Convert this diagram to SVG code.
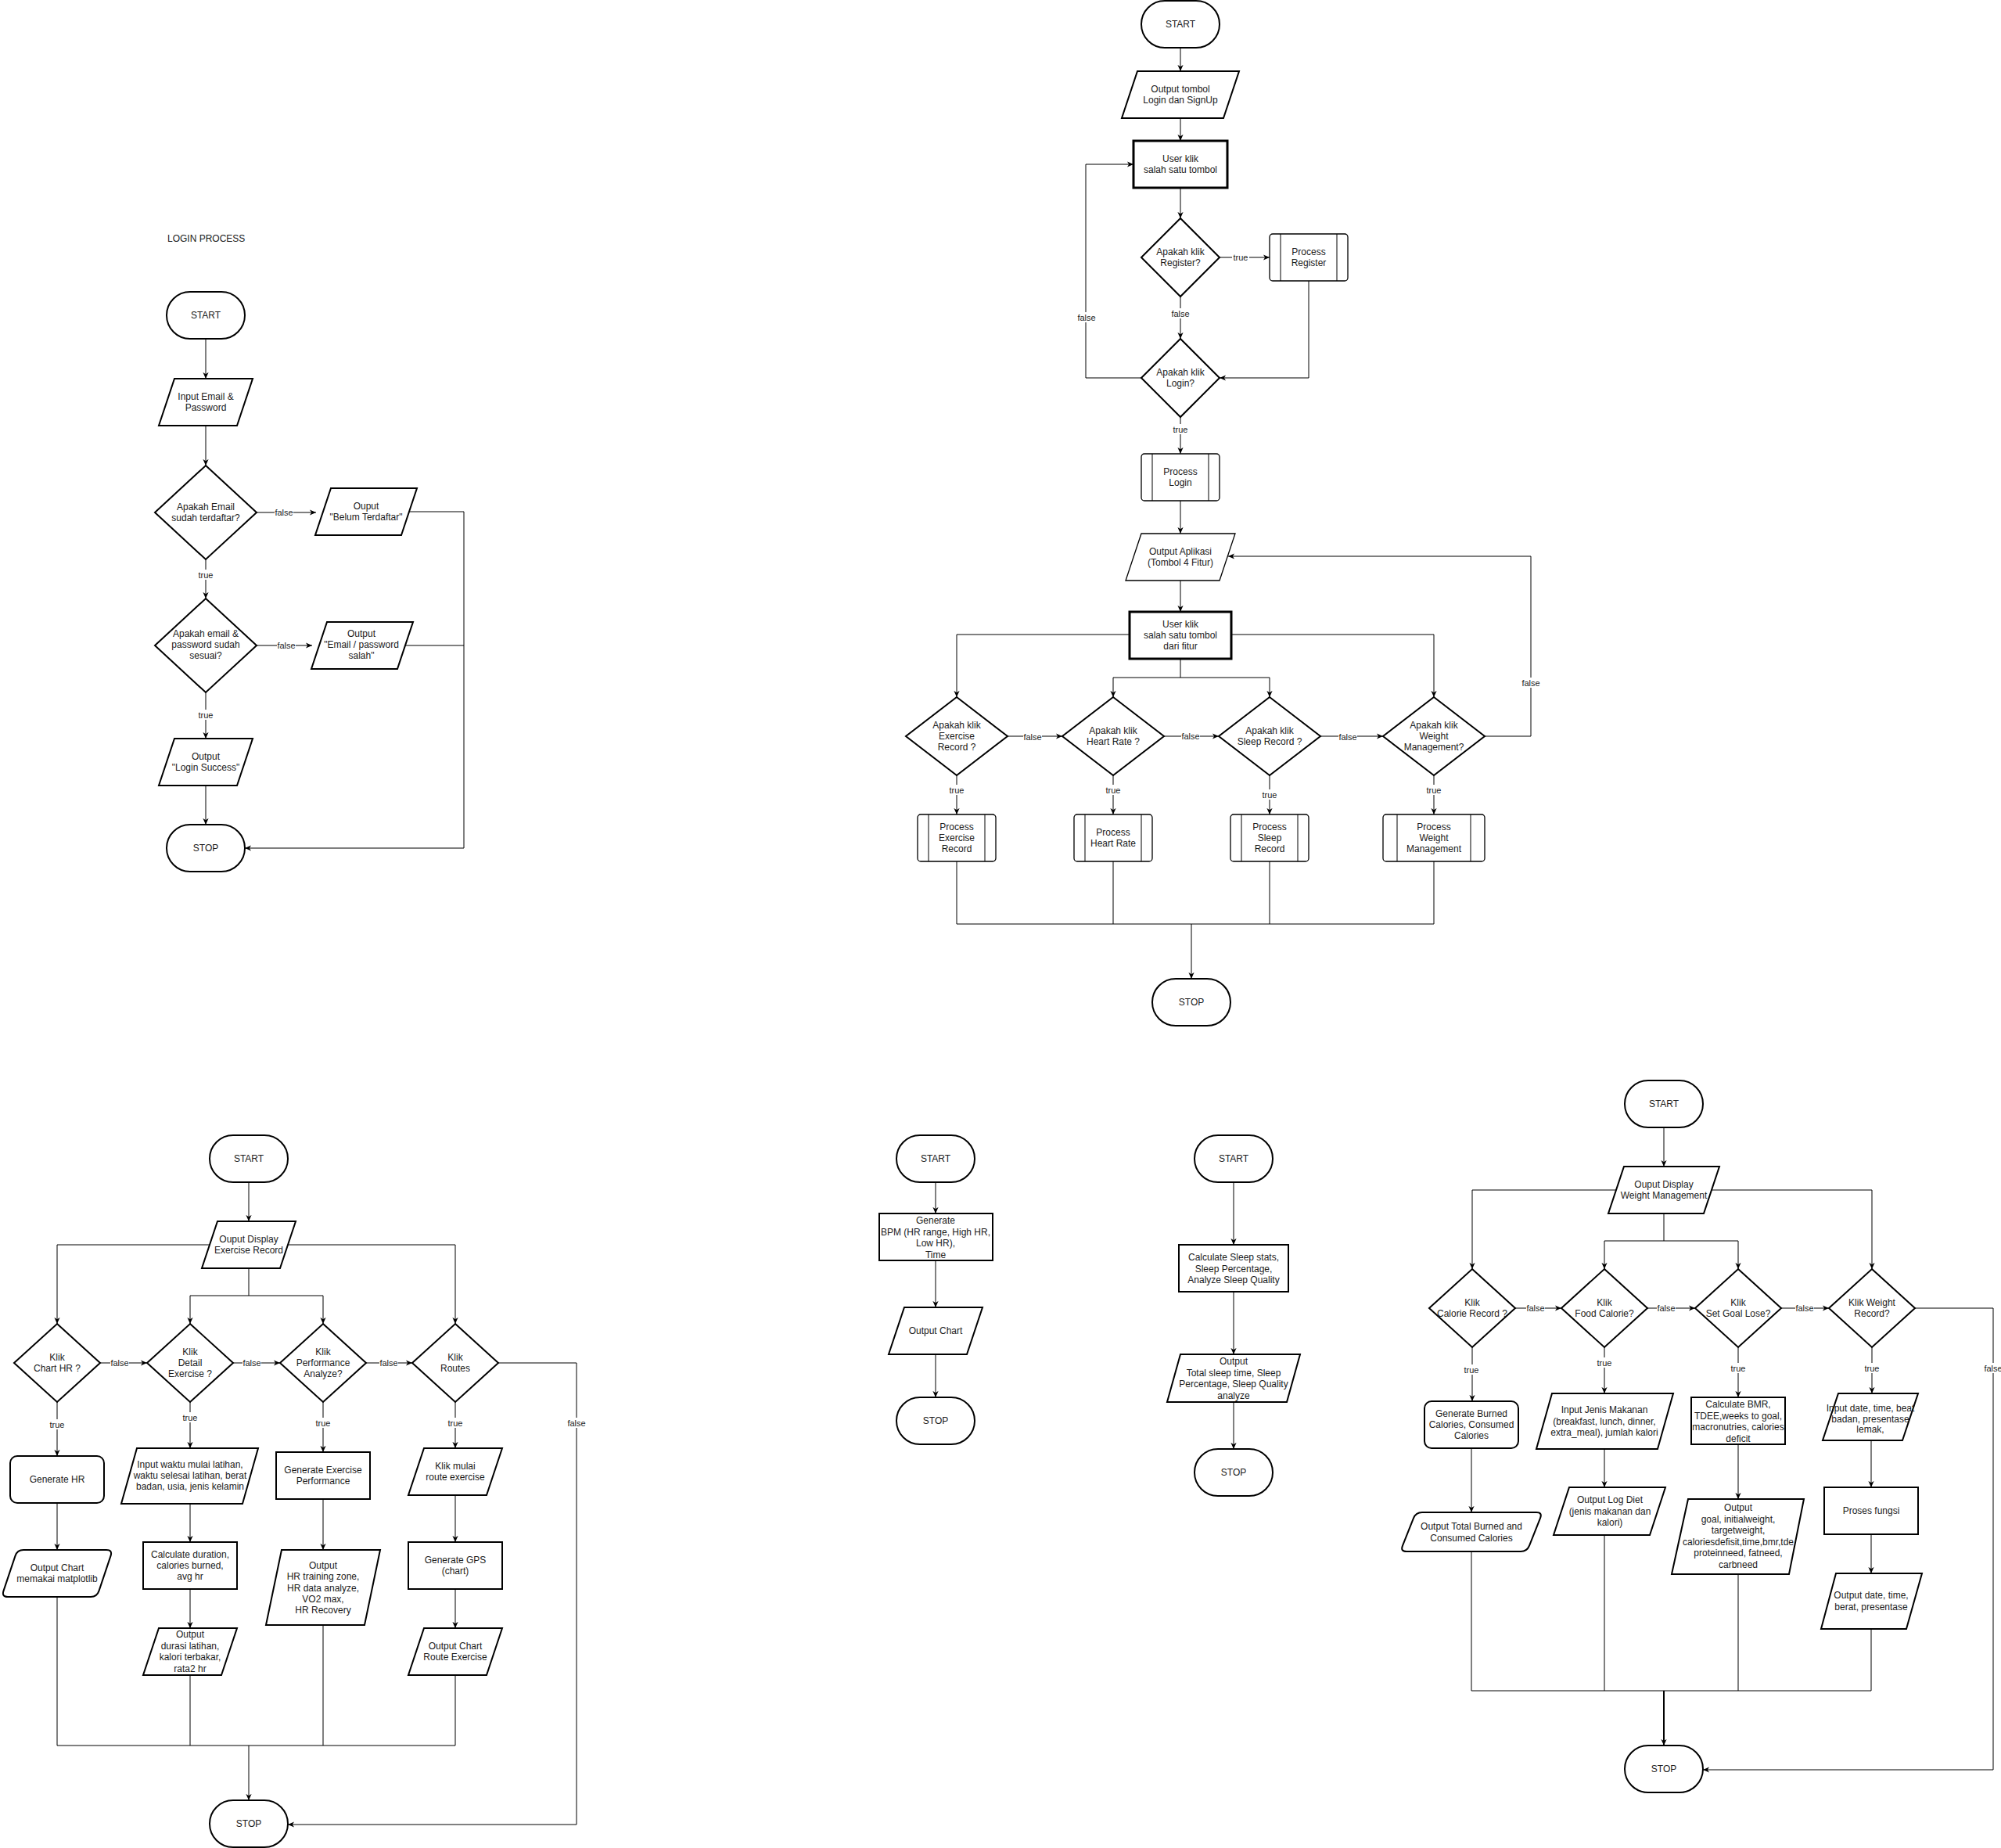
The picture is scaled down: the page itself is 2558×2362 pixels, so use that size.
<svg xmlns="http://www.w3.org/2000/svg" width="2558" height="2362" viewBox="0 0 2558 2362">
<defs>
<marker id="ar" viewBox="0 0 10 10" refX="9" refY="5" markerWidth="9" markerHeight="9" orient="auto" markerUnits="userSpaceOnUse"><path d="M0,1 L9,5 L0,9 L2.5,5 Z" fill="#000"/></marker>
<style>
.s{fill:#fff;stroke:#000;stroke-width:2}
.s1{fill:#fff;stroke:#000;stroke-width:1.3}
.s3{fill:#fff;stroke:#000;stroke-width:3}
.t{font-family:"Liberation Sans",Arial,Helvetica,sans-serif;font-size:12px;fill:#1a1a1a;text-anchor:middle}
.tl{font-family:"Liberation Sans",Arial,Helvetica,sans-serif;font-size:12px;fill:#1a1a1a}
.c{fill:none;stroke:#000;stroke-width:1}
.ca{fill:none;stroke:#000;stroke-width:1;marker-end:url(#ar)}
.cb{fill:none;stroke:#000;stroke-width:2;marker-end:url(#ar)}
.lb rect{fill:#fff}
.lb text{font-family:"Liberation Sans",Arial,Helvetica,sans-serif;font-size:11px;fill:#1a1a1a;text-anchor:middle}
</style>
</defs>
<rect width="2558" height="2362" fill="#fff"/>

<!-- ============ LOGIN PROCESS ============ -->
<text id="login-title" class="tl" x="214" y="309">LOGIN PROCESS</text>
<g id="connectors-login">
<path class="ca" d="M263,433 V484"/>
<path class="ca" d="M263,544 V595"/>
<path class="ca" d="M328,655 H404"/>
<path class="ca" d="M263,715 V765"/>
<path class="ca" d="M328,825 H399"/>
<path class="ca" d="M263,885 V944"/>
<path class="ca" d="M263,1004 V1054"/>
<path class="ca" d="M523,654 H593 V1084 H313"/>
<path class="c" d="M518,825 H593"/>
<g class="lb" transform="translate(363,655)"><rect x="-12" y="-7" width="24" height="13"/><text y="4">false</text></g>
<g class="lb" transform="translate(263,735)"><rect x="-11" y="-7" width="22" height="13"/><text y="4">true</text></g>
<g class="lb" transform="translate(366,825)"><rect x="-12" y="-7" width="24" height="13"/><text y="4">false</text></g>
<g class="lb" transform="translate(263,914)"><rect x="-11" y="-7" width="22" height="13"/><text y="4">true</text></g>
</g>
<g id="l-start"><rect class="s" x="213" y="373" width="100" height="60" rx="30"/><text class="t" x="263" y="407">START</text></g>
<g id="l-input"><polygon class="s" points="223,484 323,484 303,544 203,544"/><text class="t" x="263" y="511">Input Email &amp;<tspan x="263" dy="14">Password</tspan></text></g>
<g id="l-dec1"><polygon class="s" points="263,595 328,655 263,715 198,655"/><text class="t" x="263" y="652">Apakah Email<tspan x="263" dy="14">sudah terdaftar?</tspan></text></g>
<g id="l-out-belum"><polygon class="s" points="423,624 533,624 513,684 403,684"/><text class="t" x="468" y="651">Ouput<tspan x="468" dy="14">"Belum Terdaftar"</tspan></text></g>
<g id="l-dec2"><polygon class="s" points="263,765 328,825 263,885 198,825"/><text class="t" x="263" y="814">Apakah email &amp;<tspan x="263" dy="14">password sudah</tspan><tspan x="263" dy="14">sesuai?</tspan></text></g>
<g id="l-out-salah"><polygon class="s" points="418,795 528,795 508,855 398,855"/><text class="t" x="462" y="814">Output<tspan x="462" dy="14">"Email / password</tspan><tspan x="462" dy="14">salah"</tspan></text></g>
<g id="l-out-success"><polygon class="s" points="223,944 323,944 303,1004 203,1004"/><text class="t" x="263" y="971">Output<tspan x="263" dy="14">"Login Success"</tspan></text></g>
<g id="l-stop"><rect class="s" x="213" y="1054" width="100" height="60" rx="30"/><text class="t" x="263" y="1088">STOP</text></g>

<!-- ============ MAIN APP ============ -->
<g id="connectors-main">
<path class="ca" d="M1509,61 V91"/>
<path class="ca" d="M1509,151 V180"/>
<path class="ca" d="M1509,240 V279"/>
<path class="ca" d="M1559,329 H1623"/>
<path class="ca" d="M1509,379 V433"/>
<path class="ca" d="M1673,359 V483 H1559"/>
<path class="ca" d="M1459,483 H1388 V210 H1449"/>
<path class="ca" d="M1509,533 V580"/>
<path class="ca" d="M1509,640 V682"/>
<path class="ca" d="M1509,742 V782"/>
<path class="ca" d="M1444,811 H1223 V891"/>
<path class="ca" d="M1574,811 H1833 V891"/>
<path class="ca" d="M1509,842 V866 H1423 V891"/>
<path class="ca" d="M1509,866 H1623 V891"/>
<path class="ca" d="M1288,941 H1358"/>
<path class="ca" d="M1488,941 H1558"/>
<path class="ca" d="M1688,941 H1768"/>
<path class="ca" d="M1898,941 H1957 V711 H1570"/>
<path class="ca" d="M1223,991 V1041"/>
<path class="ca" d="M1423,991 V1041"/>
<path class="ca" d="M1623,991 V1041"/>
<path class="ca" d="M1833,991 V1041"/>
<path class="c" d="M1223,1101 V1181 H1833 V1101"/>
<path class="c" d="M1423,1101 V1181"/>
<path class="c" d="M1623,1101 V1181"/>
<path class="ca" d="M1523,1181 V1251"/>
<g class="lb" transform="translate(1586,329)"><rect x="-11" y="-7" width="22" height="13"/><text y="4">true</text></g>
<g class="lb" transform="translate(1509,401)"><rect x="-12" y="-7" width="24" height="13"/><text y="4">false</text></g>
<g class="lb" transform="translate(1389,406)"><rect x="-12" y="-7" width="24" height="13"/><text y="4">false</text></g>
<g class="lb" transform="translate(1509,549)"><rect x="-11" y="-7" width="22" height="13"/><text y="4">true</text></g>
<g class="lb" transform="translate(1320,942)"><rect x="-12" y="-7" width="24" height="13"/><text y="4">false</text></g>
<g class="lb" transform="translate(1522,941)"><rect x="-12" y="-7" width="24" height="13"/><text y="4">false</text></g>
<g class="lb" transform="translate(1723,942)"><rect x="-12" y="-7" width="24" height="13"/><text y="4">false</text></g>
<g class="lb" transform="translate(1957,873)"><rect x="-12" y="-7" width="24" height="13"/><text y="4">false</text></g>
<g class="lb" transform="translate(1223,1010)"><rect x="-11" y="-7" width="22" height="13"/><text y="4">true</text></g>
<g class="lb" transform="translate(1423,1010)"><rect x="-11" y="-7" width="22" height="13"/><text y="4">true</text></g>
<g class="lb" transform="translate(1623,1016)"><rect x="-11" y="-7" width="22" height="13"/><text y="4">true</text></g>
<g class="lb" transform="translate(1833,1010)"><rect x="-11" y="-7" width="22" height="13"/><text y="4">true</text></g>
</g>
<g id="m-start"><rect class="s" x="1459" y="1" width="100" height="60" rx="30"/><text class="t" x="1509" y="35">START</text></g>
<g id="m-out-tombol"><polygon class="s" points="1454,91 1584,91 1564,151 1434,151"/><text class="t" x="1509" y="118">Output tombol<tspan x="1509" dy="14">Login dan SignUp</tspan></text></g>
<g id="m-user-klik"><rect class="s3" x="1449" y="180" width="120" height="60"/><text class="t" x="1509" y="207">User klik<tspan x="1509" dy="14">salah satu tombol</tspan></text></g>
<g id="m-dec-register"><polygon class="s" points="1509,279 1559,329 1509,379 1459,329"/><text class="t" x="1509" y="326">Apakah klik<tspan x="1509" dy="14">Register?</tspan></text></g>
<g id="m-proc-register"><rect class="s1" x="1623" y="299" width="100" height="60" rx="4"/><path class="c" d="M1637,299 V359 M1709,299 V359"/><text class="t" x="1673" y="326">Process<tspan x="1673" dy="14">Register</tspan></text></g>
<g id="m-dec-login"><polygon class="s" points="1509,433 1559,483 1509,533 1459,483"/><text class="t" x="1509" y="480">Apakah klik<tspan x="1509" dy="14">Login?</tspan></text></g>
<g id="m-proc-login"><rect class="s1" x="1459" y="580" width="100" height="60" rx="4"/><path class="c" d="M1473,580 V640 M1545,580 V640"/><text class="t" x="1509" y="607">Process<tspan x="1509" dy="14">Login</tspan></text></g>
<g id="m-out-aplikasi"><polygon class="s1" points="1459,682 1579,682 1559,742 1439,742"/><text class="t" x="1509" y="709">Output Aplikasi<tspan x="1509" dy="14">(Tombol 4 Fitur)</tspan></text></g>
<g id="m-user-fitur"><rect class="s3" x="1444" y="782" width="130" height="60"/><text class="t" x="1509" y="802">User klik<tspan x="1509" dy="14">salah satu tombol</tspan><tspan x="1509" dy="14">dari fitur</tspan></text></g>
<g id="m-dec-exercise"><polygon class="s" points="1223,891 1288,941 1223,991 1158,941"/><text class="t" x="1223" y="931">Apakah klik<tspan x="1223" dy="14">Exercise</tspan><tspan x="1223" dy="14">Record ?</tspan></text></g>
<g id="m-dec-heart"><polygon class="s" points="1423,891 1488,941 1423,991 1358,941"/><text class="t" x="1423" y="938">Apakah klik<tspan x="1423" dy="14">Heart Rate ?</tspan></text></g>
<g id="m-dec-sleep"><polygon class="s" points="1623,891 1688,941 1623,991 1558,941"/><text class="t" x="1623" y="938">Apakah klik<tspan x="1623" dy="14">Sleep Record ?</tspan></text></g>
<g id="m-dec-weight"><polygon class="s" points="1833,891 1898,941 1833,991 1768,941"/><text class="t" x="1833" y="931">Apakah klik<tspan x="1833" dy="14">Weight</tspan><tspan x="1833" dy="14">Management?</tspan></text></g>
<g id="m-proc-exercise"><rect class="s1" x="1173" y="1041" width="100" height="60" rx="4"/><path class="c" d="M1187,1041 V1101 M1259,1041 V1101"/><text class="t" x="1223" y="1061">Process<tspan x="1223" dy="14">Exercise</tspan><tspan x="1223" dy="14">Record</tspan></text></g>
<g id="m-proc-heart"><rect class="s1" x="1373" y="1041" width="100" height="60" rx="4"/><path class="c" d="M1387,1041 V1101 M1459,1041 V1101"/><text class="t" x="1423" y="1068">Process<tspan x="1423" dy="14">Heart Rate</tspan></text></g>
<g id="m-proc-sleep"><rect class="s1" x="1573" y="1041" width="100" height="60" rx="4"/><path class="c" d="M1587,1041 V1101 M1659,1041 V1101"/><text class="t" x="1623" y="1061">Process<tspan x="1623" dy="14">Sleep</tspan><tspan x="1623" dy="14">Record</tspan></text></g>
<g id="m-proc-weight"><rect class="s1" x="1768" y="1041" width="130" height="60" rx="4"/><path class="c" d="M1786,1041 V1101 M1880,1041 V1101"/><text class="t" x="1833" y="1061">Process<tspan x="1833" dy="14">Weight</tspan><tspan x="1833" dy="14">Management</tspan></text></g>
<g id="m-stop"><rect class="s" x="1473" y="1251" width="100" height="60" rx="30"/><text class="t" x="1523" y="1285">STOP</text></g>

<!-- ============ EXERCISE RECORD ============ -->
<g id="connectors-exercise">
<path class="ca" d="M318,1511 V1561"/>
<path class="ca" d="M268,1591 H73 V1692"/>
<path class="ca" d="M368,1591 H582 V1692"/>
<path class="ca" d="M318,1621 V1656 H243 V1692"/>
<path class="ca" d="M318,1656 H413 V1692"/>
<path class="ca" d="M128,1742 H188"/>
<path class="ca" d="M298,1742 H358"/>
<path class="ca" d="M468,1742 H527"/>
<path class="ca" d="M637,1742 H737 V2332 H368"/>
<path class="ca" d="M73,1792 V1861"/>
<path class="ca" d="M243,1792 V1851"/>
<path class="ca" d="M413,1792 V1856"/>
<path class="ca" d="M582,1792 V1851"/>
<path class="ca" d="M73,1921 V1981"/>
<path class="ca" d="M243,1922 V1971"/>
<path class="ca" d="M413,1916 V1981"/>
<path class="ca" d="M582,1911 V1971"/>
<path class="ca" d="M243,2031 V2081"/>
<path class="ca" d="M582,2031 V2081"/>
<path class="c" d="M73,2041 V2231 H582 V2141"/>
<path class="c" d="M243,2141 V2231"/>
<path class="c" d="M413,2077 V2231"/>
<path class="ca" d="M318,2231 V2301"/>
<g class="lb" transform="translate(153,1742)"><rect x="-12" y="-7" width="24" height="13"/><text y="4">false</text></g>
<g class="lb" transform="translate(322,1742)"><rect x="-12" y="-7" width="24" height="13"/><text y="4">false</text></g>
<g class="lb" transform="translate(497,1742)"><rect x="-12" y="-7" width="24" height="13"/><text y="4">false</text></g>
<g class="lb" transform="translate(737,1819)"><rect x="-12" y="-7" width="24" height="13"/><text y="4">false</text></g>
<g class="lb" transform="translate(73,1821)"><rect x="-11" y="-7" width="22" height="13"/><text y="4">true</text></g>
<g class="lb" transform="translate(243,1812)"><rect x="-11" y="-7" width="22" height="13"/><text y="4">true</text></g>
<g class="lb" transform="translate(413,1819)"><rect x="-11" y="-7" width="22" height="13"/><text y="4">true</text></g>
<g class="lb" transform="translate(582,1819)"><rect x="-11" y="-7" width="22" height="13"/><text y="4">true</text></g>
</g>
<g id="e-start"><rect class="s" x="268" y="1451" width="100" height="60" rx="30"/><text class="t" x="318" y="1485">START</text></g>
<g id="e-display"><polygon class="s" points="278,1561 378,1561 358,1621 258,1621"/><text class="t" x="318" y="1588">Ouput Display<tspan x="318" dy="14">Exercise Record</tspan></text></g>
<g id="e-dec-chart"><polygon class="s" points="73,1692 128,1742 73,1792 18,1742"/><text class="t" x="73" y="1739">Klik<tspan x="73" dy="14">Chart HR ?</tspan></text></g>
<g id="e-dec-detail"><polygon class="s" points="243,1692 298,1742 243,1792 188,1742"/><text class="t" x="243" y="1732">Klik<tspan x="243" dy="14">Detail</tspan><tspan x="243" dy="14">Exercise ?</tspan></text></g>
<g id="e-dec-perf"><polygon class="s" points="413,1692 468,1742 413,1792 358,1742"/><text class="t" x="413" y="1732">Klik<tspan x="413" dy="14">Performance</tspan><tspan x="413" dy="14">Analyze?</tspan></text></g>
<g id="e-dec-routes"><polygon class="s" points="582,1692 637,1742 582,1792 527,1742"/><text class="t" x="582" y="1739">Klik<tspan x="582" dy="14">Routes</tspan></text></g>
<g id="e-gen-hr"><rect class="s" x="13" y="1861" width="120" height="60" rx="9"/><text class="t" x="73" y="1895">Generate HR</text></g>
<g id="e-input-waktu"><polygon class="s" points="175,1851 330,1851 310,1922 155,1922"/><text class="t" x="243" y="1876">Input waktu mulai latihan,<tspan x="243" dy="14">waktu selesai latihan, berat</tspan><tspan x="243" dy="14">badan, usia, jenis kelamin</tspan></text></g>
<g id="e-gen-perf"><rect class="s" x="353" y="1856" width="120" height="60"/><text class="t" x="413" y="1883">Generate Exercise<tspan x="413" dy="14">Performance</tspan></text></g>
<g id="e-klik-route"><polygon class="s" points="542,1851 642,1851 622,1911 522,1911"/><text class="t" x="582" y="1878">Klik  mulai<tspan x="582" dy="14">route exercise</tspan></text></g>
<g id="e-out-chart"><path class="s" d="M30,1981 H136 Q144,1981 141.5,1988.6 L126.5,2033.4 Q124,2041 116,2041 H10 Q2,2041 4.5,2033.4 L19.5,1988.6 Q22,1981 30,1981 Z"/><text class="t" x="73" y="2008">Output Chart<tspan x="73" dy="14">memakai matplotlib</tspan></text></g>
<g id="e-calc"><rect class="s" x="183" y="1971" width="120" height="60"/><text class="t" x="243" y="1991">Calculate duration,<tspan x="243" dy="14">calories burned,</tspan><tspan x="243" dy="14">avg hr</tspan></text></g>
<g id="e-out-hr"><polygon class="s" points="360,1981 486,1981 466,2077 340,2077"/><text class="t" x="413" y="2005">Output<tspan x="413" dy="14.3">HR training zone,</tspan><tspan x="413" dy="14.3">HR data analyze,</tspan><tspan x="413" dy="14.3">VO2 max,</tspan><tspan x="413" dy="14.3">HR Recovery</tspan></text></g>
<g id="e-gen-gps"><rect class="s" x="522" y="1971" width="120" height="60"/><text class="t" x="582" y="1998">Generate GPS<tspan x="582" dy="14">(chart)</tspan></text></g>
<g id="e-out-durasi"><polygon class="s" points="203,2081 303,2081 283,2141 183,2141"/><text class="t" x="243" y="2093">Output<tspan x="243" dy="14.5">durasi latihan,</tspan><tspan x="243" dy="14.5">kalori terbakar,</tspan><tspan x="243" dy="14.5">rata2 hr</tspan></text></g>
<g id="e-out-route"><polygon class="s" points="542,2081 642,2081 622,2141 522,2141"/><text class="t" x="582" y="2108">Output Chart<tspan x="582" dy="14">Route Exercise</tspan></text></g>
<g id="e-stop"><rect class="s" x="268" y="2301" width="100" height="60" rx="30"/><text class="t" x="318" y="2335">STOP</text></g>

<!-- ============ HEART RATE ============ -->
<g id="connectors-heart">
<path class="ca" d="M1196,1511 V1551"/>
<path class="ca" d="M1196,1611 V1671"/>
<path class="ca" d="M1196,1731 V1786"/>
</g>
<g id="h-start"><rect class="s" x="1146" y="1451" width="100" height="60" rx="30"/><text class="t" x="1196" y="1485">START</text></g>
<g id="h-gen"><rect class="s" x="1124" y="1551" width="145" height="60"/><text class="t" x="1196" y="1564">Generate<tspan x="1196" dy="14.5">BPM (HR range, High HR,</tspan><tspan x="1196" dy="14.5">Low HR),</tspan><tspan x="1196" dy="14.5">Time</tspan></text></g>
<g id="h-out"><polygon class="s" points="1156,1671 1256,1671 1236,1731 1136,1731"/><text class="t" x="1196" y="1705">Output Chart</text></g>
<g id="h-stop"><rect class="s" x="1146" y="1786" width="100" height="60" rx="30"/><text class="t" x="1196" y="1820">STOP</text></g>

<!-- ============ SLEEP ============ -->
<g id="connectors-sleep">
<path class="ca" d="M1577,1511 V1591"/>
<path class="ca" d="M1577,1651 V1731"/>
<path class="ca" d="M1577,1792 V1852"/>
</g>
<g id="sl-start"><rect class="s" x="1527" y="1451" width="100" height="60" rx="30"/><text class="t" x="1577" y="1485">START</text></g>
<g id="sl-calc"><rect class="s" x="1507" y="1591" width="140" height="60"/><text class="t" x="1577" y="1611">Calculate Sleep stats,<tspan x="1577" dy="14.5">Sleep Percentage,</tspan><tspan x="1577" dy="14.5">Analyze Sleep Quality</tspan></text></g>
<g id="sl-out"><polygon class="s" points="1509,1731 1662,1731 1645,1792 1492,1792"/><text class="t" x="1577" y="1744">Output<tspan x="1577" dy="14.5">Total sleep time, Sleep</tspan><tspan x="1577" dy="14.5">Percentage, Sleep Quality</tspan><tspan x="1577" dy="14.5">analyze</tspan></text></g>
<g id="sl-stop"><rect class="s" x="1527" y="1852" width="100" height="60" rx="30"/><text class="t" x="1577" y="1886">STOP</text></g>

<!-- ============ WEIGHT MANAGEMENT ============ -->
<g id="connectors-weight">
<path class="ca" d="M2127,1441 V1491"/>
<path class="ca" d="M2066,1521 H1882 V1622"/>
<path class="ca" d="M2188,1521 H2393 V1622"/>
<path class="ca" d="M2127,1551 V1586 H2051 V1622"/>
<path class="ca" d="M2127,1586 H2222 V1622"/>
<path class="ca" d="M1937,1672 H1996"/>
<path class="ca" d="M2106,1672 H2167"/>
<path class="ca" d="M2277,1672 H2338"/>
<path class="ca" d="M2448,1672 H2548 V2262 H2177"/>
<path class="ca" d="M1882,1722 V1791"/>
<path class="ca" d="M2051,1722 V1781"/>
<path class="ca" d="M2222,1722 V1786"/>
<path class="ca" d="M2393,1722 V1781"/>
<path class="ca" d="M1881,1851 V1933"/>
<path class="ca" d="M2051,1852 V1901"/>
<path class="ca" d="M2222,1846 V1916"/>
<path class="ca" d="M2392,1841 V1901"/>
<path class="ca" d="M2392,1961 V2011"/>
<path class="c" d="M1881,1983 V2161 H2392 V2082"/>
<path class="c" d="M2051,1962 V2161"/>
<path class="c" d="M2222,2012 V2161"/>
<path class="cb" d="M2127,2161 V2231"/>
<g class="lb" transform="translate(1963,1672)"><rect x="-12" y="-7" width="24" height="13"/><text y="4">false</text></g>
<g class="lb" transform="translate(2130,1672)"><rect x="-12" y="-7" width="24" height="13"/><text y="4">false</text></g>
<g class="lb" transform="translate(2307,1672)"><rect x="-12" y="-7" width="24" height="13"/><text y="4">false</text></g>
<g class="lb" transform="translate(2548,1749)"><rect x="-12" y="-7" width="24" height="13"/><text y="4">false</text></g>
<g class="lb" transform="translate(1881,1751)"><rect x="-11" y="-7" width="22" height="13"/><text y="4">true</text></g>
<g class="lb" transform="translate(2051,1742)"><rect x="-11" y="-7" width="22" height="13"/><text y="4">true</text></g>
<g class="lb" transform="translate(2222,1749)"><rect x="-11" y="-7" width="22" height="13"/><text y="4">true</text></g>
<g class="lb" transform="translate(2393,1749)"><rect x="-11" y="-7" width="22" height="13"/><text y="4">true</text></g>
</g>
<g id="w-start"><rect class="s" x="2077" y="1381" width="100" height="60" rx="30"/><text class="t" x="2127" y="1415">START</text></g>
<g id="w-display"><polygon class="s" points="2076,1491 2198,1491 2178,1551 2056,1551"/><text class="t" x="2127" y="1518">Ouput Display<tspan x="2127" dy="14">Weight Management</tspan></text></g>
<g id="w-dec-calorie"><polygon class="s" points="1882,1622 1937,1672 1882,1722 1827,1672"/><text class="t" x="1882" y="1669">Klik<tspan x="1882" dy="14">Calorie Record ?</tspan></text></g>
<g id="w-dec-food"><polygon class="s" points="2051,1622 2106,1672 2051,1722 1996,1672"/><text class="t" x="2051" y="1669">Klik<tspan x="2051" dy="14">Food Calorie?</tspan></text></g>
<g id="w-dec-goal"><polygon class="s" points="2222,1622 2277,1672 2222,1722 2167,1672"/><text class="t" x="2222" y="1669">Klik<tspan x="2222" dy="14">Set Goal Lose?</tspan></text></g>
<g id="w-dec-weight"><polygon class="s" points="2393,1622 2448,1672 2393,1722 2338,1672"/><text class="t" x="2393" y="1669">Klik Weight<tspan x="2393" dy="14">Record?</tspan></text></g>
<g id="w-gen-burned"><rect class="s" x="1821" y="1791" width="120" height="60" rx="9"/><text class="t" x="1881" y="1811">Generate Burned<tspan x="1881" dy="14">Calories, Consumed</tspan><tspan x="1881" dy="14">Calories</tspan></text></g>
<g id="w-input-makanan"><polygon class="s" points="1984,1781 2139,1781 2119,1852 1964,1852"/><text class="t" x="2051" y="1806">Input Jenis Makanan<tspan x="2051" dy="14.5">(breakfast, lunch, dinner,</tspan><tspan x="2051" dy="14.5">extra_meal), jumlah kalori</tspan></text></g>
<g id="w-calc-bmr"><rect class="s" x="2162" y="1786" width="120" height="60"/><text class="t" x="2222" y="1799">Calculate BMR,<tspan x="2222" dy="14.5">TDEE,weeks to goal,</tspan><tspan x="2222" dy="14.5">macronutries, calories</tspan><tspan x="2222" dy="14.5">deficit</tspan></text></g>
<g id="w-input-date"><polygon class="s" points="2350,1781 2452,1781 2432,1841 2330,1841"/><text class="t" x="2391" y="1804">Input date, time, beat<tspan x="2391" dy="13.5">badan, presentase</tspan><tspan x="2391" dy="13.5">lemak,</tspan></text></g>
<g id="w-out-burned"><path class="s" d="M1818,1933 H1964 Q1972,1933 1969,1940.4 L1955,1975.6 Q1952,1983 1944,1983 H1798 Q1790,1983 1793,1975.6 L1807,1940.4 Q1810,1933 1818,1933 Z"/><text class="t" x="1881" y="1955">Output Total Burned and<tspan x="1881" dy="14.5">Consumed Calories</tspan></text></g>
<g id="w-out-diet"><polygon class="s" points="2006,1901 2129,1901 2109,1962 1986,1962"/><text class="t" x="2058" y="1921">Output Log Diet<tspan x="2058" dy="14.5">(jenis makanan dan</tspan><tspan x="2058" dy="14.5">kalori)</tspan></text></g>
<g id="w-out-goal"><polygon class="s" points="2158,1916 2306,1916 2287,2012 2137,2012"/><text class="t" x="2222" y="1931">Output<tspan x="2222" dy="14.6">goal, initialweight,</tspan><tspan x="2222" dy="14.6">targetweight,</tspan><tspan x="2222" dy="14.6">caloriesdefisit,time,bmr,tde</tspan><tspan x="2222" dy="14.6">proteinneed, fatneed,</tspan><tspan x="2222" dy="14.6">carbneed</tspan></text></g>
<g id="w-proses"><rect class="s" x="2332" y="1901" width="120" height="60"/><text class="t" x="2392" y="1935">Proses fungsi</text></g>
<g id="w-out-date"><polygon class="s" points="2347,2011 2457,2011 2437,2082 2328,2082"/><text class="t" x="2392" y="2043">Output date, time,<tspan x="2392" dy="14.5">berat, presentase</tspan></text></g>
<g id="w-stop"><rect class="s" x="2077" y="2231" width="100" height="60" rx="30"/><text class="t" x="2127" y="2265">STOP</text></g>
</svg>
